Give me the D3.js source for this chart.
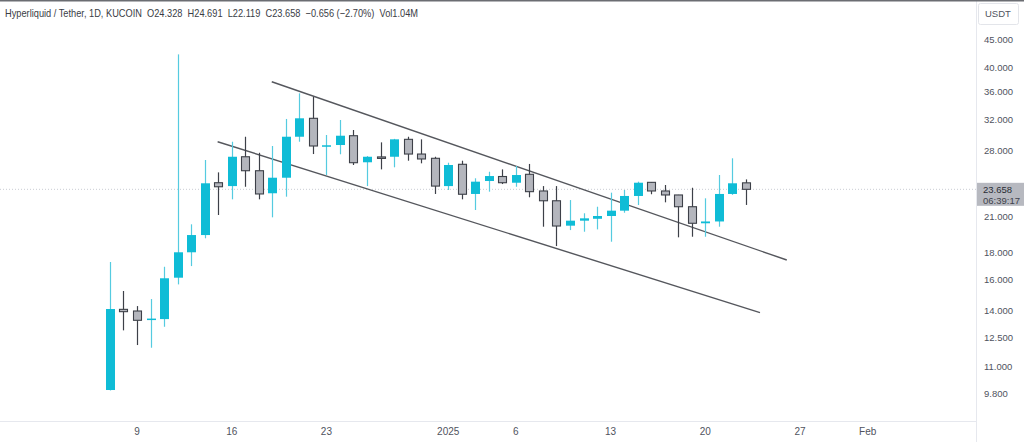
<!DOCTYPE html>
<html><head><meta charset="utf-8">
<script src="https://cdn.jsdelivr.net/npm/d3@7"></script>
<style>
html,body{margin:0;padding:0;background:#fff;}
svg{display:block;}
</style></head>
<body>
<svg id="c" width="1024" height="442"></svg>
<script>
// ---- data ----
const dates = ["2024-12-07","2024-12-08","2024-12-09","2024-12-10","2024-12-11","2024-12-12","2024-12-13","2024-12-14","2024-12-15","2024-12-16","2024-12-17","2024-12-18","2024-12-19","2024-12-20","2024-12-21","2024-12-22","2024-12-23","2024-12-24","2024-12-25","2024-12-26","2024-12-27","2024-12-28","2024-12-29","2024-12-30","2024-12-31","2025-01-01","2025-01-02","2025-01-03","2025-01-04","2025-01-05","2025-01-06","2025-01-07","2025-01-08","2025-01-09","2025-01-10","2025-01-11","2025-01-12","2025-01-13","2025-01-14","2025-01-15","2025-01-16","2025-01-17","2025-01-18","2025-01-19","2025-01-20","2025-01-21","2025-01-22","2025-01-23"];
const opens  = [9.97,14.11,14.01,13.50,13.53,16.17,18.04,19.43,24.34,23.99,27.22,25.63,23.26,24.87,29.67,32.12,28.45,28.63,29.80,26.58,27.20,27.22,29.34,27.54,27.04,23.99,26.35,23.19,24.52,25.00,24.34,25.24,23.49,22.52,20.23,20.67,20.84,21.09,21.58,22.99,24.38,23.49,23.09,21.95,20.44,20.60,23.19,24.328];
const highs  = [17.30,15.27,14.31,14.75,16.95,42.30,20.35,26.84,25.45,29.04,29.67,27.69,28.51,32.03,35.77,35.25,29.89,31.89,30.54,27.30,28.96,29.40,29.67,29.34,27.22,26.53,26.76,24.81,25.52,25.78,26.16,26.39,23.99,23.99,22.59,21.34,21.95,23.32,23.59,24.45,24.40,24.10,23.10,23.82,22.76,25.16,27.04,24.691];
const lows   = [9.95,12.89,12.10,11.96,13.09,15.71,17.00,19.16,21.18,22.66,23.92,22.66,20.97,22.92,29.04,27.54,25.16,27.51,26.27,23.99,25.78,26.01,26.76,26.46,23.19,23.59,22.66,21.64,23.42,24.20,23.92,22.86,20.14,18.53,19.85,19.71,19.91,18.88,21.39,22.11,23.16,22.37,19.24,19.29,19.29,20.14,23.10,22.119];
const closes = [14.13,13.97,13.46,13.56,16.13,18.04,19.43,24.28,23.92,27.22,25.63,23.19,24.87,29.67,32.12,28.51,28.60,29.80,26.53,27.22,27.10,29.34,27.54,26.96,23.99,26.27,23.16,24.45,25.05,24.34,25.16,23.42,22.52,20.20,20.67,20.88,21.09,21.58,22.99,24.34,23.49,23.09,21.95,20.44,20.60,23.19,24.28,23.658];

const priceTicks = [45,40,36,32,28,21,18,16,14,12.5,11,9.8];
const timeTickDates = ["2024-12-09","2024-12-16","2024-12-23","2025-01-01","2025-01-06","2025-01-13","2025-01-20","2025-01-27","2025-02-01"];
const timeTickLabels = ["9","16","23","2025","6","13","20","27","Feb"];

// trend lines: [startDate, startPrice, endDate, endPrice]
const upperLine = ["2024-12-18T23:00Z", 37.6, "2025-01-26T00:30Z", 17.45];
const lowerLine = ["2024-12-14T23:00Z", 29.04, "2025-01-24T01:00Z", 13.91];

const lastPrice = 23.658;
const lastPriceLabel = "23.658";
const countdownLabel = "06:39:17";
const headerText = "Hyperliquid / Tether, 1D, KUCOIN  O24.328  H24.691  L22.119  C23.658  \u22120.656 (\u22122.70%)  Vol1.04M";
const currency = "USDT";

// ---- setup ----
const W = 1024, H = 442;
const plotRight = 976, plotBottom = 421;
const svg = d3.select("#c");
const parse = s => new Date(s.length === 10 ? s + "T00:00:00Z" : s);

const x = d3.scaleUtc()
  .domain([parse("2024-12-09"), parse("2025-01-23")])
  .range([137, 745.9]);
const y = d3.scaleLog()
  .domain([9.8, 45])
  .range([394, 40]);

const UP = "#0fbcd6", UPWICK = "#55cbe0", DN_FILL = "#b4b6bd", DN_STROKE = "#3d4048";

const candles = dates.map((d,i)=>({d:parse(d),o:opens[i],h:highs[i],l:lows[i],c:closes[i]}));

// background
svg.append("rect").attr("width",W).attr("height",H).attr("fill","#fff");

// axis borders
svg.append("line").attr("x1",plotRight+0.5).attr("x2",plotRight+0.5).attr("y1",0).attr("y2",H)
  .attr("stroke","#e6e8ee").attr("stroke-width",1);
svg.append("line").attr("x1",0).attr("x2",plotRight).attr("y1",plotBottom+0.5).attr("y2",plotBottom+0.5)
  .attr("stroke","#e6e8ee").attr("stroke-width",1);

// last price dotted line
svg.append("line").attr("x1",0).attr("x2",plotRight).attr("y1",y(lastPrice)).attr("y2",y(lastPrice))
  .attr("stroke","#c9ccd3").attr("stroke-width",1).attr("stroke-dasharray","1,2");

// trend lines
[upperLine, lowerLine].forEach(t=>{
  svg.append("line")
    .attr("x1",x(parse(t[0]))).attr("y1",y(t[1]))
    .attr("x2",x(parse(t[2]))).attr("y2",y(t[3]))
    .attr("stroke","#55575d").attr("stroke-width",1.4);
});

// candles
const bw = 9;
const g = svg.append("g");
candles.forEach(k=>{
  const up = k.c >= k.o;
  const cx = Math.round(x(k.d)) + 0.5;
  g.append("line").attr("x1",cx).attr("x2",cx).attr("y1",y(k.h)).attr("y2",y(k.l))
    .attr("stroke", up ? UPWICK : DN_STROKE).attr("stroke-width",1.2);
  const top = y(Math.max(k.o,k.c)), bot = y(Math.min(k.o,k.c));
  const hgt = Math.max(bot-top, 1.5);
  if (up) {
    g.append("rect").attr("x",cx-bw/2).attr("y",top).attr("width",bw).attr("height",hgt)
      .attr("fill",UP);
  } else {
    g.append("rect").attr("x",cx-bw/2+0.5).attr("y",top).attr("width",bw-1).attr("height",hgt)
      .attr("fill",DN_FILL).attr("stroke",DN_STROKE).attr("stroke-width",1.1);
  }
});

// price axis labels
const fmt = d3.format(".3f");
svg.append("g").selectAll("text").data(priceTicks).join("text")
  .attr("x",984).attr("y",d=>y(d)).attr("dy","0.35em")
  .attr("font-family","Liberation Sans, Arial, sans-serif").attr("font-size",9.5)
  .attr("fill","#50535e").text(d=>fmt(d));

// last price label box
const ly = y(lastPrice);
svg.append("rect").attr("x",plotRight+1).attr("y",ly-6.5).attr("width",W-plotRight-1).attr("height",23)
  .attr("fill","#b7b9c0");
svg.append("text").attr("x",983).attr("y",ly).attr("dy","0.35em")
  .attr("font-family","Liberation Sans, Arial, sans-serif").attr("font-size",9.5)
  .attr("fill","#2a2d35").text(lastPriceLabel);
svg.append("text").attr("x",983).attr("y",ly+11.5).attr("dy","0.35em")
  .attr("font-family","Liberation Sans, Arial, sans-serif").attr("font-size",9.5)
  .attr("fill","#3f434c").text(countdownLabel);

// currency box
svg.append("rect").attr("x",978.5).attr("y",3.5).attr("width",40).attr("height",21).attr("rx",2)
  .attr("fill","#fff").attr("stroke","#e3e5ea");
svg.append("text").attr("x",985).attr("y",14).attr("dy","0.35em")
  .attr("font-family","Liberation Sans, Arial, sans-serif").attr("font-size",9.5)
  .attr("fill","#50535e").text(currency);

// time axis labels
svg.append("g").selectAll("text").data(timeTickDates).join("text")
  .attr("x",d=>x(parse(d))).attr("y",431).attr("dy","0.35em").attr("text-anchor","middle")
  .attr("font-family","Liberation Sans, Arial, sans-serif").attr("font-size",10)
  .attr("fill","#50535e").text((d,i)=>timeTickLabels[i]);

// top border
svg.append("rect").attr("x",0).attr("y",0).attr("width",W).attr("height",1.5).attr("fill","#6b6d72");

// header
svg.append("text").attr("x",5).attr("y",13).attr("dy","0.35em")
  .attr("font-family","Liberation Sans, Arial, sans-serif").attr("font-size",11)
  .attr("textLength",413).attr("lengthAdjust","spacingAndGlyphs")
  .attr("fill","#3a3d45").attr("xml:space","preserve").style("white-space","pre").text(headerText);
</script>
</body></html>
